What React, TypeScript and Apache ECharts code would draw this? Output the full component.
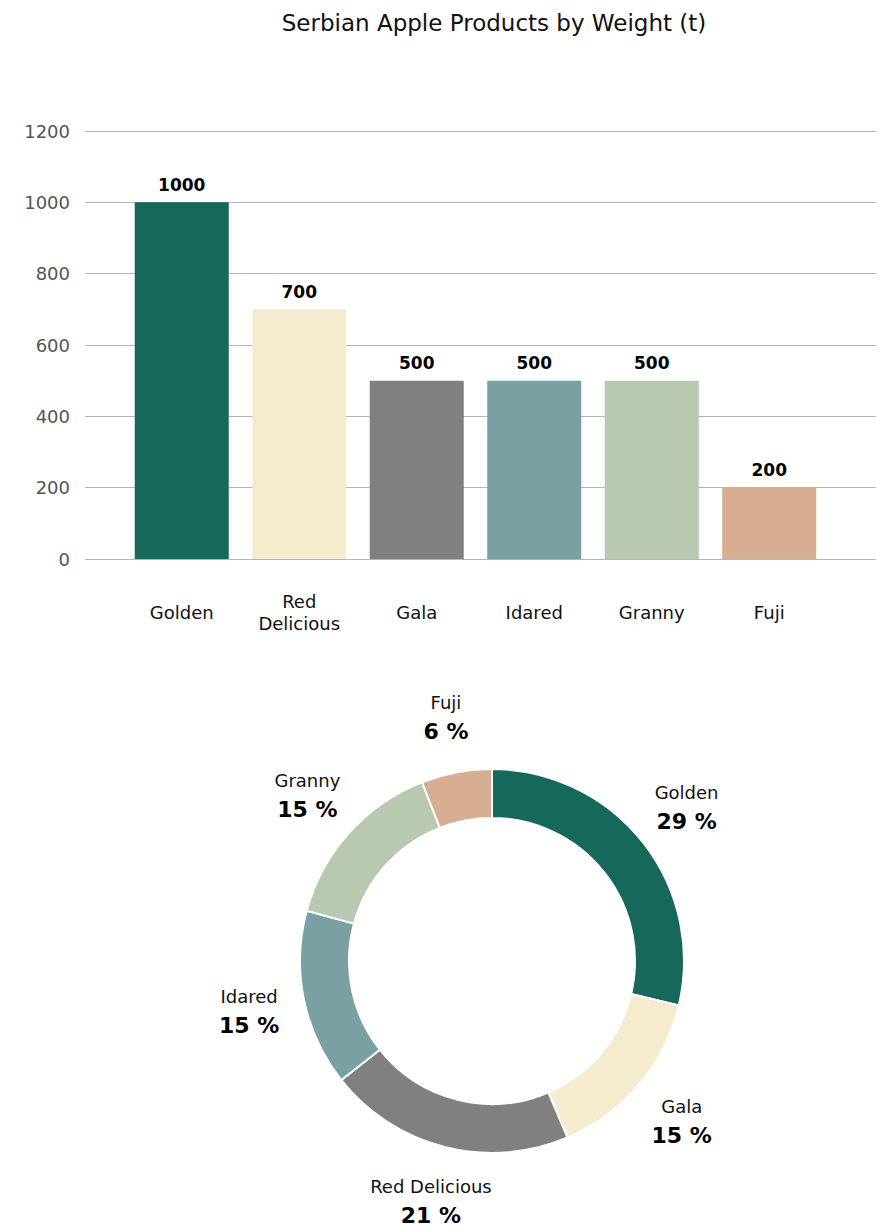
import React, { useEffect, useRef } from "react";
import * as echarts from "echarts";

const TITLE = "Serbian Apple Products by Weight (t)";
const categories = ["Golden", "Red Delicious", "Gala", "Idared", "Granny", "Fuji"];
const barLabels = ["Golden", "Red\nDelicious", "Gala", "Idared", "Granny", "Fuji"];
const weights = [1000, 700, 500, 500, 500, 200];
const barColors = ["#16695A", "#F5ECCF", "#808080", "#7BA0A3", "#B9C9B1", "#D7AE92"];
const pieOrder = ["Golden", "Gala", "Red Delicious", "Idared", "Granny", "Fuji"];
const piePercents = [29, 15, 21, 15, 15, 6];
const pieColors = ["#16695A", "#F5ECCF", "#808080", "#7BA0A3", "#B9C9B1", "#D7AE92"];
const yTicks = [0, 200, 400, 600, 800, 1000, 1200];

const FONT = "'DejaVu Sans', 'Noto Sans', sans-serif";

export default function App() {
  const ref = useRef<HTMLDivElement>(null);
  useEffect(() => {
    document.body.style.margin = "0";
    const chart = echarts.init(ref.current!, null, { renderer: "svg" });
    const pieData = pieOrder.map((n, i) => ({
      name: n,
      value: piePercents[i],
      itemStyle: { color: pieColors[i] },
    }));
    const yMax = yTicks[yTicks.length - 1];
    chart.setOption({
      animation: false,
      textStyle: { fontFamily: FONT },
      title: {
        text: TITLE,
        left: 489,
        textAlign: "center",
        top: 6,
        textStyle: { fontFamily: FONT, fontSize: 23, fontWeight: 400, color: "#111" },
      },
      grid: [
        { left: 85, right: 3, top: 131, bottom: 668 },
        { left: 123, right: 51, top: 131, bottom: 668 },
      ],
      xAxis: [
        { type: "category", gridIndex: 0, data: categories, show: false },
        {
          type: "category",
          gridIndex: 1,
          data: barLabels,
          axisLine: { show: false },
          axisTick: { show: false },
          axisLabel: {
            margin: 53,
            verticalAlign: "middle",
            fontSize: 18,
            color: "#111",
            lineHeight: 22,
            fontFamily: FONT,
            interval: 0,
          },
        },
      ],
      yAxis: [
        {
          type: "value",
          gridIndex: 0,
          min: 0,
          max: yMax,
          interval: 200,
          axisLine: { show: false },
          axisTick: { show: false },
          splitLine: { lineStyle: { color: "#b5b5b5", width: 1 } },
          axisLabel: {
            margin: 15,
            fontSize: 18,
            color: "#555",
            fontFamily: FONT,
            formatter: (v: number) => String(v),
          },
        },
        {
          type: "value",
          gridIndex: 1,
          min: 0,
          max: yMax,
          interval: 200,
          show: false,
          splitLine: { show: false },
        },
      ],
      series: [
        {
          type: "bar",
          xAxisIndex: 1,
          yAxisIndex: 1,
          barWidth: 94,
          data: weights.map((v, i) => ({ value: v, itemStyle: { color: barColors[i] } })),
          label: {
            show: true,
            position: "top",
            distance: 9,
            fontSize: 17,
            fontWeight: "bold",
            color: "#000",
            fontFamily: FONT,
          },
        },
        {
          type: "pie",
          center: [492, 961],
          radius: [143, 192],
          startAngle: 90,
          clockwise: true,
          avoidLabelOverlap: false,
          itemStyle: { borderColor: "#fff", borderWidth: 2 },
          label: { show: false },
          labelLine: { show: false },
          emphasis: { disabled: true },
          data: pieData,
        },
        {
          type: "pie",
          center: [492, 961],
          radius: [224, 266],
          startAngle: 90,
          clockwise: true,
          silent: true,
          avoidLabelOverlap: false,
          itemStyle: { color: "rgba(0,0,0,0)", borderWidth: 0 },
          labelLine: { show: false },
          emphasis: { disabled: true },
          label: {
            show: true,
            position: "inside",
            rotate: 0,
            formatter: (p: any) => `{n|${p.name}}\n{p|${p.value} %}`,
            rich: {
              n: { fontSize: 18, color: "#111", fontFamily: FONT, lineHeight: 29, align: "center" },
              p: { fontSize: 22, fontWeight: "bold", color: "#000", fontFamily: FONT, lineHeight: 29, align: "center" },
            },
          },
          data: pieData.map((d) => ({ name: d.name, value: d.value })),
        },
      ],
    });
    return () => chart.dispose();
  }, []);
  return <div ref={ref} style={{ width: 879, height: 1227 }} />;
}
